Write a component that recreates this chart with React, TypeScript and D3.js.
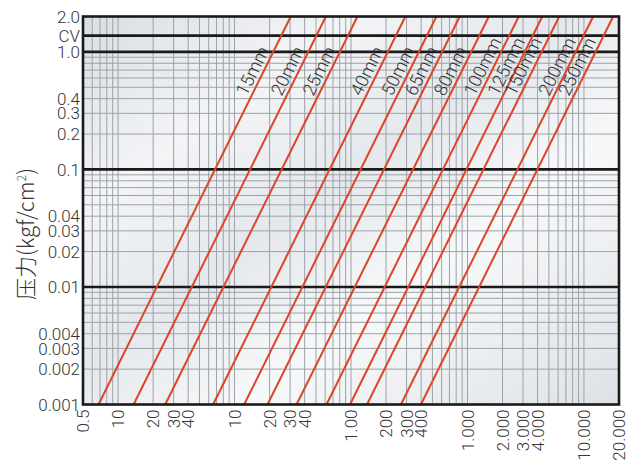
import React from 'react';
import * as d3 from 'd3';

const sizeLabels = ['15mm', '20mm', '25mm', '40mm', '50mm', '65mm', '80mm', '100mm', '125mm', '150mm', '200mm', '250mm'];
// flow value where each line meets the 0.001 pressure row
const flowAtMinPressure = [6.8, 13.6, 25.4, 65.5, 121, 192, 341, 616, 981, 1372, 2685, 3984];

const xTickValues = [5, 10, 20, 30, 40, 100, 200, 300, 400, 1000, 2000, 3000, 4000, 10000, 20000, 30000, 40000, 100000, 200000];
const xTickLabels = ['0.5', '10', '20', '30', '40', '10', '20', '30', '40', '1.00', '200', '300', '400', '1.000', '2.000', '3.000', '4.000', '10.000', '20.000'];

const cvValue = 1.375;
const yTickValues = [2, cvValue, 1, 0.4, 0.3, 0.2, 0.1, 0.04, 0.03, 0.02, 0.01, 0.004, 0.003, 0.002, 0.001];
const yTickLabels = ['2.0', 'CV', '1.0', '0.4', '0.3', '0.2', '0.1', '0.04', '0.03', '0.02', '0.01', '0.004', '0.003', '0.002', '0.001'];
const majorPressure = [cvValue, 1, 0.1, 0.01];

const W = 644, H = 475;
const L = 83, R = 619, T = 16.5, B = 404.5;

const x = d3.scaleLog().domain([5, 200000]).range([L, R]);
const y = d3.scaleLog().domain([0.001, 2]).range([B, T]);

const xMinor: number[] = [];
for (let e = 0; e <= 5; e++) for (let d = 1; d <= 9; d++) {
  const v = d * Math.pow(10, e);
  if (v > 5 && v < 200000) xMinor.push(v);
}
const yMinor: number[] = [];
for (let e = -3; e <= -1; e++) for (let d = 2; d <= 9; d++) yMinor.push(d * Math.pow(10, e));

const FONT = "'Roboto', 'Liberation Sans', sans-serif";
const RED = '#dc4528';

export default function App() {
  const pTop = 2, pBot = 0.001;
  const dxDec = (x(10) - x(1));
  const dyDec = (y(0.01) - y(0.1));
  const angle = Math.atan2(dyDec, dxDec / 2) * 180 / Math.PI;
  const rad = angle * Math.PI / 180;
  const upX = -Math.sin(rad), upY = -Math.cos(rad);
  const labelP = 0.4;
  const offset = 4;
  return (
    <svg width={W} height={H} style={{ position: 'absolute', left: 0, top: 0, background: '#fff' }}>
      <defs>
        <linearGradient id="bg" x1="0" y1="0" x2="1" y2="1">
          <stop offset="0%" stopColor="#d9dee4" />
          <stop offset="25%" stopColor="#f3f4f6" />
          <stop offset="45%" stopColor="#e4e8ec" />
          <stop offset="65%" stopColor="#f7f8f9" />
          <stop offset="100%" stopColor="#dde1e6" />
        </linearGradient>
        <clipPath id="plot"><rect x={L} y={T} width={R - L} height={B - T} /></clipPath>
      </defs>
      <rect x={L} y={T} width={R - L} height={B - T} fill="url(#bg)" />
      <g stroke="#9da2a8" strokeWidth={1}>
        {xMinor.map((v, i) => <line key={'vx' + i} x1={x(v)} x2={x(v)} y1={T} y2={B} />)}
        {yMinor.map((v, i) => <line key={'hy' + i} x1={L} x2={R} y1={y(v)} y2={y(v)} />)}
      </g>
      <g stroke="#1a1a1a" strokeWidth={2.6}>
        {majorPressure.map((v, i) => <line key={'mj' + i} x1={L} x2={R} y1={y(v)} y2={y(v)} />)}
      </g>
      <g clipPath="url(#plot)" stroke={RED} strokeWidth={2} fill="none">
        {flowAtMinPressure.map((q0, i) => {
          const q1 = q0 * Math.sqrt(pTop / pBot);
          return <line key={'ln' + i} x1={x(q0)} y1={y(pBot)} x2={x(q1)} y2={y(pTop)} />;
        })}
      </g>
      <g fontFamily={FONT} fontWeight={300} fontSize={18} fill="#333">
        {flowAtMinPressure.map((q0, i) => {
          const q = q0 * Math.sqrt(labelP / pBot);
          const px = x(q) + upX * offset, py = y(labelP) + upY * offset;
          return (
            <text key={'lb' + i} transform={`translate(${px},${py}) rotate(${-angle})`} textAnchor="start">{sizeLabels[i]}</text>
          );
        })}
      </g>
      <rect x={L} y={T} width={R - L} height={B - T} fill="none" stroke="#1a1a1a" strokeWidth={2.6} />
      <g fontFamily={FONT} fontWeight={300} fontSize={17} fill="#333">
        {yTickValues.map((v, i) => (
          <text key={'yt' + i} x={L - 3} y={y(v)} dy="0.36em" textAnchor="end">{yTickLabels[i]}</text>
        ))}
        {xTickValues.map((v, i) => (
          <text key={'xt' + i} transform={`translate(${x(v)},${B + 5}) rotate(-90)`} dy="0.36em" textAnchor="end">{xTickLabels[i]}</text>
        ))}
      </g>
      <text transform={`translate(26,234) rotate(-90)`} textAnchor="middle" dy="0.36em" fontFamily="'Noto Sans CJK SC', sans-serif" fontWeight={300} fontSize={22} fill="#333">
        压力(kgf/cm<tspan dy="-8" fontSize={12}>2</tspan><tspan dy="8">)</tspan>
      </text>
    </svg>
  );
}
